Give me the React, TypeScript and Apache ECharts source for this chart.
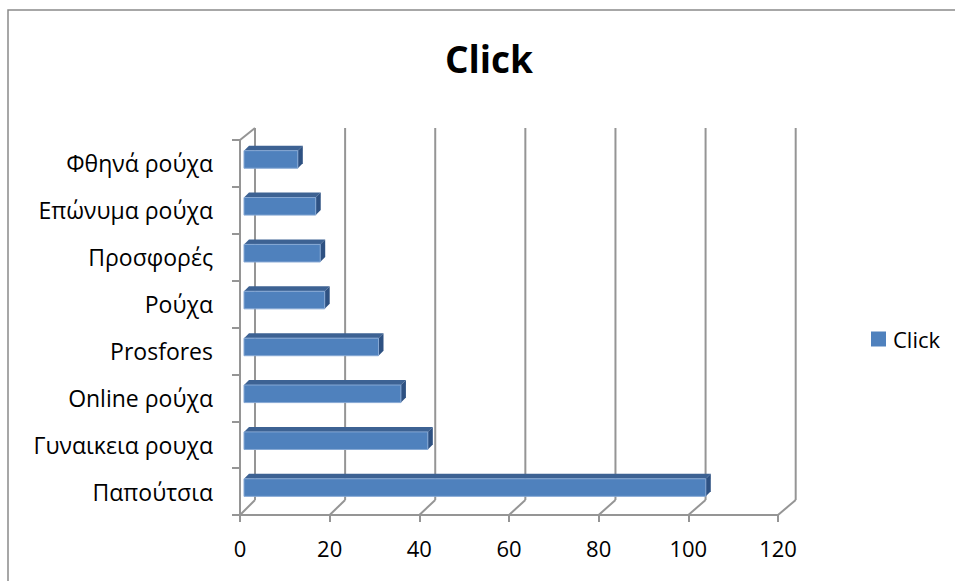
import React, { useEffect, useRef } from "react";
import * as echarts from "echarts";

// Data (bottom-to-top, as the category axis draws them)
const categories = [
  "Παπούτσια",
  "Γυναικεια ρουχα",
  "Online ρούχα",
  "Prosfores",
  "Ρούχα",
  "Προσφορές",
  "Επώνυμα ρούχα",
  "Φθηνά ρούχα",
];
const clickValues = [103, 41, 35, 30, 18, 17, 16, 12];
const xTicks = [0, 20, 40, 60, 80, 100, 120];
const seriesName = "Click";
const titleText = "Click";

const FONT = "'Open Sans', 'Noto Sans', sans-serif";
const FRONT = "#4F81BD";
const TOP = "#3D6293";
const SIDE = "#2E5182";
const EDGE = "#86A8D4";
const GRID = "#959595";

export default function App() {
  const ref = useRef<HTMLDivElement>(null);

  useEffect(() => {
    if (!ref.current) return;
    const chart = echarts.init(ref.current, undefined, { renderer: "svg" });

    const DEPTH = 15; // floor/wall depth in px
    const BAR_D1 = 4; // bar front face depth offset
    const BAR_D2 = 5; // bar thickness in depth

    const option: any = {
      animation: false,
      backgroundColor: "#ffffff",
      title: {
        text: titleText,
        left: 489,
        top: 40,
        padding: 0,
        textAlign: "center",
        textStyle: {
          fontFamily: FONT,
          fontWeight: "bold",
          fontSize: 37,
          color: "#000000",
        },
      },
      legend: {
        data: [{ name: seriesName, icon: "rect" }],
        orient: "vertical",
        left: 871,
        top: 328,
        padding: 0,
        itemWidth: 15,
        itemHeight: 15,
        selectedMode: false,
        textStyle: {
          fontFamily: FONT,
          fontSize: 22,
          color: "#000000",
          padding: [0, 0, 0, 2],
        },
      },
      grid: {
        left: 240,
        right: 177,
        top: 140,
        bottom: 66,
        containLabel: false,
      },
      xAxis: {
        type: "value",
        min: 0,
        max: 120,
        interval: 20,
        axisLine: { show: true, lineStyle: { color: GRID, width: 2 } },
        axisTick: { show: true, length: 7, lineStyle: { color: GRID, width: 2 } },
        splitLine: { show: false },
        axisLabel: {
          margin: 22,
          fontFamily: FONT,
          fontSize: 22,
          color: "#000000",
        },
      },
      yAxis: {
        type: "category",
        data: categories,
        axisLine: { show: true, lineStyle: { color: GRID, width: 2 } },
        axisTick: { show: true, length: 8, lineStyle: { color: GRID, width: 2 } },
        splitLine: { show: false },
        axisLabel: {
          margin: 27,
          fontFamily: FONT,
          fontSize: 23,
          color: "#000000",
        },
      },
      graphic: [
        {
          type: "rect",
          shape: { x: 8, y: 10, width: 1000, height: 700 },
          style: { fill: "none", stroke: "#8a8a8a", lineWidth: 1.5 },
          silent: true,
          z: -10,
        },
      ],
      series: [
        {
          name: "walls",
          type: "custom",
          clip: false,
          silent: true,
          z: 1,
          encode: { x: 0, y: 1 },
          data: xTicks.map((t) => [t, 0]),
          renderItem: (params: any, api: any) => {
            const cs = params.coordSys;
            const t = api.value(0);
            const xf = api.coord([t, 0])[0];
            const yF = cs.y + cs.height;
            const xb = cs.x + DEPTH + (xf - cs.x) * 1.005;
            const yB = yF - DEPTH;
            const backTop = cs.y - 12;
            const ls = { stroke: GRID, lineWidth: 2, fill: "none" };
            const children: any[] = [
              { type: "line", shape: { x1: xf, y1: yF, x2: xb, y2: yB }, style: ls },
              { type: "line", shape: { x1: xb, y1: yB, x2: xb, y2: backTop }, style: ls },
            ];
            if (t === 0) {
              children.push({
                type: "line",
                shape: { x1: cs.x, y1: cs.y, x2: xb, y2: backTop },
                style: ls,
              });
            }
            return { type: "group", children };
          },
        },
        {
          name: seriesName,
          type: "custom",
          clip: false,
          z: 5,
          itemStyle: { color: FRONT },
          encode: { x: 0, y: 1 },
          data: clickValues.map((v, i) => [v, i]),
          renderItem: (params: any, api: any) => {
            const v = api.value(0);
            const cat = api.value(1);
            const base = api.coord([0, cat]);
            const end = api.coord([v, cat]);
            const band = api.size([0, 1])[1];
            const h = band * 0.375;
            const x0 = base[0] + BAR_D1;
            const x1 = end[0] + BAR_D1;
            const yc = base[1] - BAR_D1;
            const top = yc - h / 2;
            const bot = yc + h / 2;
            const d = BAR_D2;
            return {
              type: "group",
              children: [
                {
                  type: "polygon",
                  shape: { points: [[x0, top], [x1, top], [x1 + d, top - d], [x0 + d, top - d]] },
                  style: { fill: TOP },
                },
                {
                  type: "polygon",
                  shape: { points: [[x1, top], [x1 + d, top - d], [x1 + d, bot - d], [x1, bot]] },
                  style: { fill: SIDE },
                },
                {
                  type: "rect",
                  shape: { x: x0, y: top, width: x1 - x0, height: h },
                  style: { fill: FRONT, stroke: EDGE, lineWidth: 1 },
                },
              ],
            };
          },
        },
      ],
    };

    chart.setOption(option);
    return () => {
      chart.dispose();
    };
  }, []);

  return (
    <div
      ref={ref}
      style={{ position: "fixed", left: 0, top: 0, width: 955, height: 581, background: "#fff" }}
    />
  );
}
